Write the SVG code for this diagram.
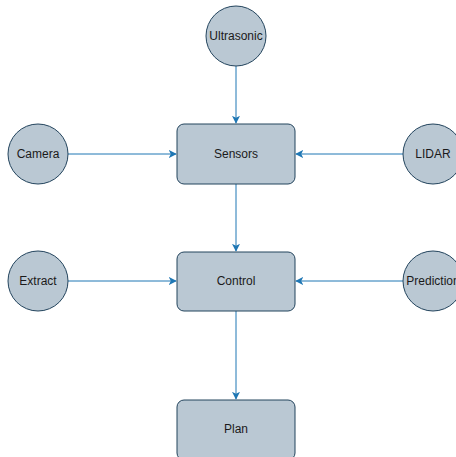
<svg xmlns="http://www.w3.org/2000/svg" width="456" height="457" viewBox="0 0 456 457">
<style>
.n{fill:#bac8d3;stroke:#23445d;stroke-width:1}
.t{font-family:"Liberation Sans",Arial,sans-serif;font-size:12px;fill:#1a1a1a;text-anchor:middle;dominant-baseline:central}
.e{stroke:#1f77b4;stroke-width:1;fill:none;marker-end:url(#a)}
</style>
<defs>
<marker id="a" viewBox="0 0 10 10" refX="9" refY="5" markerWidth="8" markerHeight="8" markerUnits="userSpaceOnUse" orient="auto">
<path d="M0,0 L10,5 L0,10 L2.5,5 Z" fill="#1f77b4"/>
</marker>
</defs>
<rect width="456" height="457" fill="#ffffff"/>
<g id="edges">
<line class="e" x1="236" y1="66" x2="236" y2="123"/>
<line class="e" x1="68" y1="154" x2="176" y2="154"/>
<line class="e" x1="403" y1="154" x2="296" y2="154"/>
<line class="e" x1="236" y1="184" x2="236" y2="251"/>
<line class="e" x1="68" y1="281" x2="176" y2="281"/>
<line class="e" x1="403" y1="281" x2="296" y2="281"/>
<line class="e" x1="236" y1="311" x2="236" y2="399"/>
</g>
<g id="ultrasonic"><circle class="n" cx="236" cy="36" r="30"/><text class="t" x="236" y="36">Ultrasonic</text></g>
<g id="camera"><circle class="n" cx="38" cy="154" r="30"/><text class="t" x="38" y="154">Camera</text></g>
<g id="lidar"><circle class="n" cx="433" cy="154" r="30"/><text class="t" x="433" y="154">LIDAR</text></g>
<g id="sensors"><rect class="n" x="177" y="124" width="118" height="60" rx="7"/><text class="t" x="236" y="154">Sensors</text></g>
<g id="extract"><circle class="n" cx="38" cy="281" r="30"/><text class="t" x="38" y="281">Extract</text></g>
<g id="prediction"><circle class="n" cx="433" cy="281" r="30"/><text class="t" x="433" y="281">Prediction</text></g>
<g id="control"><rect class="n" x="177" y="252" width="118" height="59" rx="7"/><text class="t" x="236" y="281">Control</text></g>
<g id="plan"><rect class="n" x="177" y="400" width="118" height="60" rx="7"/><text class="t" x="236" y="429">Plan</text></g>
</svg>
